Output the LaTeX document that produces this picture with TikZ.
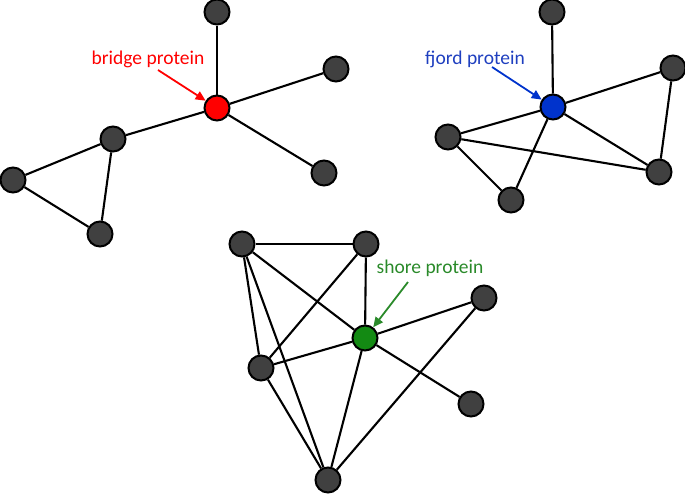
\documentclass[tikz,border=0pt]{standalone}
\usepackage{fontspec}
\setmainfont{Carlito}
\usetikzlibrary{arrows.meta}
\definecolor{nodegray}{HTML}{404040}
\definecolor{bridgered}{HTML}{FF0000}
\definecolor{fjordblue}{HTML}{0033CC}
\definecolor{shoregreen}{HTML}{138A13}
\definecolor{labelblue}{HTML}{1F3FBF}
\definecolor{labelgreen}{HTML}{2A8A2A}
\begin{document}
\begin{tikzpicture}[
  x=1pt, y=-1pt,
  prot/.style={circle, draw=black, line width=2pt, fill=#1, minimum size=25pt, inner sep=0pt},
  prot/.default={nodegray},
  link/.style={line width=2.1pt},
  lbl/.style={font=\fontsize{19.5}{23}\selectfont, text=#1},
  arr/.style={-{Triangle[length=10pt,width=9pt]}, line width=1.8pt, #1}
]
  \useasboundingbox (0,0) rectangle (685,493);

  % Bridge
  \node[prot=bridgered] (br) at (217, 108) {};
  \node[prot] (b1) at (217, 12) {};
  \node[prot] (b2) at (336, 69) {};
  \node[prot] (b3) at (324, 173) {};
  \node[prot] (b4) at (113, 139) {};
  \node[prot] (b5) at (13, 180) {};
  \node[prot] (b6) at (100, 234) {};
  \draw[link] (br) -- (b1);
  \draw[link] (br) -- (b2);
  \draw[link] (br) -- (b3);
  \draw[link] (br) -- (b4);
  \draw[link] (b4) -- (b5);
  \draw[link] (b4) -- (b6);
  \draw[link] (b5) -- (b6);
  \node[lbl=bridgered] (brl) at (148, 59) {bridge protein};
  \draw[arr=bridgered] (158, 70) -- (br);

  % Fjord
  \node[prot=fjordblue] (fj) at (553, 107) {};
  \node[prot] (f1) at (552, 12) {};
  \node[prot] (f2) at (673, 68) {};
  \node[prot] (f3) at (659, 172) {};
  \node[prot] (f4) at (448, 137) {};
  \node[prot] (f5) at (511, 200) {};
  \draw[link] (fj) -- (f1);
  \draw[link] (fj) -- (f2);
  \draw[link] (fj) -- (f3);
  \draw[link] (fj) -- (f4);
  \draw[link] (fj) -- (f5);
  \draw[link] (f2) -- (f3);
  \draw[link] (f4) -- (f3);
  \draw[link] (f4) -- (f5);
  \node[lbl=labelblue] (fjl) at (475, 59) {fjord protein};
  \draw[arr=fjordblue] (492, 67) -- (fj);

  % Shore
  \node[prot=shoregreen] (sh) at (365, 338) {};
  \node[prot] (s1) at (242, 244) {};
  \node[prot] (s2) at (366, 244) {};
  \node[prot] (s3) at (484, 298) {};
  \node[prot] (s4) at (471, 404) {};
  \node[prot] (s5) at (261, 368) {};
  \node[prot] (s6) at (328, 480) {};
  \draw[link] (s1) -- (s2);
  \draw[link] (s1) -- (sh);
  \draw[link] (s1) -- (s5);
  \draw[link] (s1) -- (s6);
  \draw[link] (s2) -- (s5);
  \draw[link] (s2) -- (sh);
  \draw[link] (sh) -- (s5);
  \draw[link] (sh) -- (s3);
  \draw[link] (sh) -- (s4);
  \draw[link] (sh) -- (s6);
  \draw[link] (s5) -- (s6);
  \draw[link] (s3) -- (s6);
  \node[lbl=labelgreen] (shl) at (430, 268) {shore protein};
  \draw[arr=labelgreen] (408, 282) -- (sh);
\end{tikzpicture}
\end{document}
